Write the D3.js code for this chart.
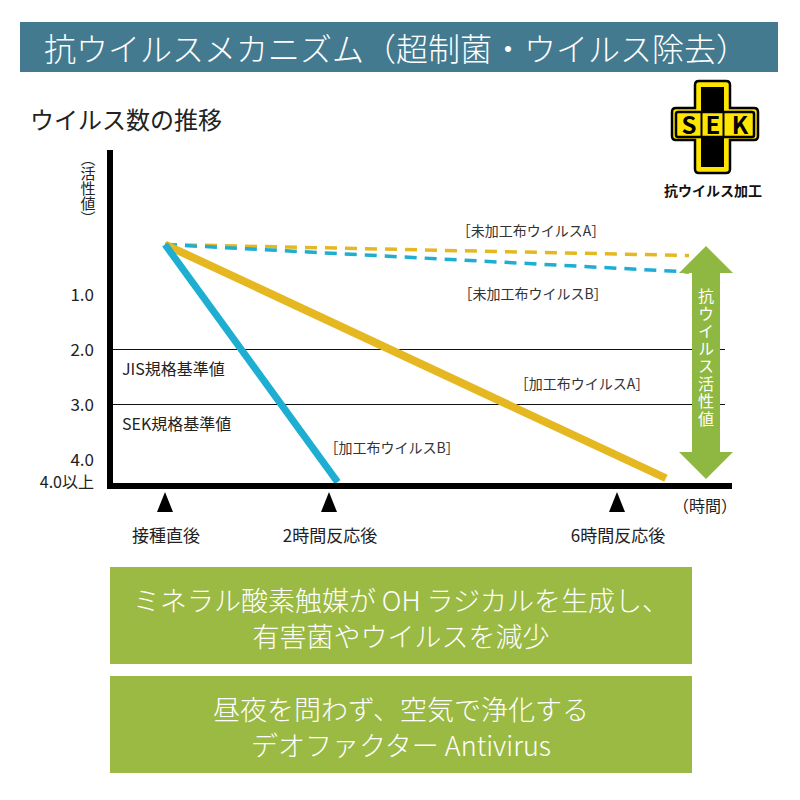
<!DOCTYPE html>
<html><head><meta charset="utf-8">
<script src="https://cdn.jsdelivr.net/npm/d3@7"></script>
<style>body{margin:0;background:#fff}svg{display:block}text{font-family:"Noto Sans CJK JP","Noto Sans",sans-serif}</style>
</head><body>
<script>
// ---- data ----
const title = "抗ウイルスメカニズム（超制菌・ウイルス除去）";
const subtitle = "ウイルス数の推移";
const timeMarks = [0, 2, 6];
const timeLabels = ["接種直後", "2時間反応後", "6時間反応後"];
const yTickValues = [1, 2, 3, 4];
const yTickLabels = ["1.0", "2.0", "3.0", "4.0"];
const standardValues = [2, 3];
const standardLabels = ["JIS規格基準値", "SEK規格基準値"];
const seriesNames = ["未加工布ウイルスA", "未加工布ウイルスB", "加工布ウイルスA", "加工布ウイルスB"];
const seriesTimes = [[0, 7.0], [0, 7.0], [0, 6.68], [0, 2.12]];
const seriesValues = [[0.1, 0.3], [0.1, 0.6], [0.1, 4.35], [0.1, 4.42]];
const seriesColors = ["#e5b822", "#1eaed2", "#e5b822", "#1eaed2"];
const seriesDashed = [true, true, false, false];
const boxLines = [["ミネラル酸素触媒が OH ラジカルを生成し、", "有害菌やウイルスを減少"],
                  ["昼夜を問わず、空気で浄化する", "デオファクター Antivirus"]];

const svg = d3.select("body").append("svg").attr("width", 800).attr("height", 800);

// header
svg.append("rect").attr("x", 20).attr("y", 22).attr("width", 758).attr("height", 50).attr("fill", "#447a8f");
svg.append("text").attr("x", 44).attr("y", 47).attr("dominant-baseline", "central")
  .attr("fill", "#fff").attr("font-size", 32).attr("font-weight", 300).text(title);
svg.append("text").attr("x", 30).attr("y", 118).attr("dominant-baseline", "central")
  .attr("fill", "#222").attr("font-size", 24).text(subtitle);

// scales
const x = d3.scaleLinear().domain([0, 2, 6]).range([165, 329, 617]);
const y = d3.scaleLinear().domain([0, 4]).range([239, 459]);

// standard lines
svg.selectAll(".std").data(standardValues).join("line")
  .attr("x1", 113).attr("x2", 725).attr("y1", d => y(d) + 0.5).attr("y2", d => y(d) + 0.5)
  .attr("stroke", "#111").attr("stroke-width", 1);
svg.selectAll(".stdl").data(standardLabels).join("text")
  .attr("x", 122).attr("y", (d, i) => y(standardValues[i]) + 19).attr("dominant-baseline", "central")
  .attr("font-size", 16).attr("fill", "#222").text(d => d);

// y axis labels
const yAxis = d3.axisLeft(y).tickValues(yTickValues).tickFormat((d, i) => yTickLabels[i]).tickSize(0).tickPadding(0);
const gy = svg.append("g").attr("transform", "translate(94,1)").call(yAxis);
gy.select(".domain").remove();
gy.selectAll("text").attr("font-size", 17).attr("fill", "#222").attr("font-family", '"Noto Sans CJK JP",sans-serif');
svg.append("text").attr("x", 94).attr("y", 481).attr("text-anchor", "end").attr("dominant-baseline", "central")
  .attr("font-size", 16).attr("fill", "#222").text("4.0以上");

// vertical (活性値)
svg.append("text").attr("x", 88).attr("y", 188).attr("text-anchor", "middle")
  .style("writing-mode", "vertical-rl").attr("font-size", 15).attr("fill", "#222").text("（活性値）");

// series
const line = d3.line().x(d => x(d[0])).y(d => y(d[1]));
seriesNames.forEach((n, i) => {
  const pts = seriesTimes[i].map((t, j) => [t, seriesValues[i][j]]);
  svg.append("path").attr("d", line(pts)).attr("fill", "none")
    .attr("stroke", seriesColors[i])
    .attr("stroke-width", seriesDashed[i] ? 3.5 : (i === 2 ? 8 : 7))
    .attr("stroke-dasharray", seriesDashed[i] ? "12,8" : null);
});

// series labels
const labelPos = [[531, 230], [533, 293], [582, 383], [392, 447]];
seriesNames.forEach((n, i) => {
  svg.append("text").attr("x", labelPos[i][0]).attr("y", labelPos[i][1]).attr("text-anchor", "middle")
    .attr("dominant-baseline", "central").attr("font-size", 14).attr("fill", "#333").text("［" + n + "］");
});

// axes
svg.append("line").attr("x1", 110).attr("x2", 110).attr("y1", 150).attr("y2", 489).attr("stroke", "#000").attr("stroke-width", 6);
svg.append("line").attr("x1", 107).attr("x2", 732).attr("y1", 486).attr("y2", 486).attr("stroke", "#000").attr("stroke-width", 6);

// markers
svg.selectAll(".tri").data(timeMarks).join("path")
  .attr("d", d => `M${x(d)},492 L${x(d) + 8},512 L${x(d) - 8},512 Z`).attr("fill", "#000");
svg.selectAll(".tl").data(timeLabels).join("text")
  .attr("x", (d, i) => x(timeMarks[i]) + 1).attr("y", 534).attr("text-anchor", "middle")
  .attr("dominant-baseline", "central").attr("font-size", 17).attr("fill", "#222").text(d => d);
svg.append("text").attr("x", 705).attr("y", 505).attr("text-anchor", "middle").attr("dominant-baseline", "central")
  .attr("font-size", 16).attr("fill", "#222").text("（時間）");

// green arrow
const ax = 706;
svg.append("path").attr("d",
  `M${ax},246 L${ax + 27},273 L${ax + 14},273 L${ax + 14},452 L${ax + 27},452 L${ax},479 L${ax - 27},452 L${ax - 14},452 L${ax - 14},273 L${ax - 27},273 Z`)
  .attr("fill", "#8fb843");
svg.append("text").attr("x", ax).attr("y", 358).attr("text-anchor", "middle")
  .style("writing-mode", "vertical-rl").style("letter-spacing", "1.5px")
  .attr("font-size", 16).attr("fill", "#fff").text("抗ウイルス活性値");

// logo
const lg = svg.append("g");
lg.append("path").attr("d",
  "M699,81 L726,81 Q730,81 730,85 L730,108 L754,108 Q758,108 758,112 L758,136 Q758,140 754,140 L730,140 L730,169 Q730,173 726,173 L699,173 Q695,173 695,169 L695,140 L676,140 Q672,140 672,136 L672,112 Q672,108 676,108 L695,108 L695,85 Q695,81 699,81 Z")
  .attr("fill", "#ffe600").attr("stroke", "#000").attr("stroke-width", 2.5);
lg.append("rect").attr("x", 701).attr("y", 87).attr("width", 23).attr("height", 80).attr("fill", "#000");
lg.append("rect").attr("x", 676).attr("y", 112).attr("width", 78).attr("height", 25).attr("rx", 2)
  .attr("fill", "#ffe600").attr("stroke", "#000").attr("stroke-width", 2.5);
[701.5, 723.5].forEach(xx => lg.append("line").attr("x1", xx).attr("x2", xx).attr("y1", 112).attr("y2", 137).attr("stroke", "#000").attr("stroke-width", 2));
[["S", 689], ["E", 713], ["K", 740]].forEach(([c, xx]) => {
  lg.append("text").attr("x", xx).attr("y", 134).attr("text-anchor", "middle").attr("font-size", 24)
    .attr("font-weight", "bold").attr("font-family", '"Liberation Sans",Arial,sans-serif').attr("fill", "#000").text(c);
});
lg.append("text").attr("x", 713).attr("y", 190).attr("text-anchor", "middle").attr("dominant-baseline", "central")
  .attr("font-size", 14).attr("font-weight", "bold").attr("fill", "#111").text("抗ウイルス加工");

// green boxes
const boxY = [567, 676];
boxLines.forEach((lines, i) => {
  svg.append("rect").attr("x", 110).attr("y", boxY[i]).attr("width", 582).attr("height", 97).attr("fill", "#9bba44");
  lines.forEach((t, j) => {
    svg.append("text").attr("x", 401).attr("y", boxY[i] + 32 + j * 36).attr("text-anchor", "middle")
      .attr("dominant-baseline", "central").attr("font-size", 27).attr("font-weight", 300).attr("fill", "#fff").text(t);
  });
});
</script>
</body></html>
